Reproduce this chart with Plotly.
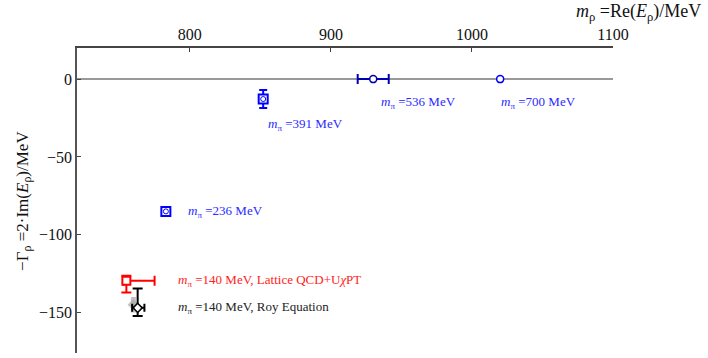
import plotly.graph_objects as go

# ---- data ----
blue_x = [783, 852]
blue_y = [-85, -12.8]
blue_yerr = [1.5, 5.8]
blue_xerr = [1.5, 1.2]

p700_x = [1020]
p700_y = [0]
p700_yerr = [1.3]

navy_x = [930]
navy_y = [0]
navy_xerr = [11]

red_x = [755]
red_y = [-129.5]
red_xerr_plus = [20]
red_xerr_minus = [2]
red_yerr_plus = [3.2]
red_yerr_minus = [7.6]

roy_x = [763]
roy_y = [-147]
roy_xerr_plus = [4.8]
roy_xerr_minus = [3.9]
roy_yerr_plus = [12.4]
roy_yerr_minus = [5.2]

band_x = [760]
band_y = [-145]
band_yerr = [5]

label_texts = [
    "<i>m</i><sub>π</sub> =236 MeV",
    "<i>m</i><sub>π</sub> =391 MeV",
    "<i>m</i><sub>π</sub> =536 MeV",
    "<i>m</i><sub>π</sub> =700 MeV",
    "<i>m</i><sub>π</sub> =140 MeV, Lattice QCD+U<i>χ</i>PT",
    "<i>m</i><sub>π</sub> =140 MeV, Roy Equation",
]
label_x = [797, 854, 934, 1019, 790, 790]
label_y = [-85, -29, -14.7, -14.7, -129.5, -147]
label_colors = ["#2a2aff", "#2a2aff", "#2a2aff", "#2a2aff", "#ff2222", "#222222"]

x_ticks = [800, 900, 1000, 1100]
y_ticks = [0, -50, -100, -150]

FONT = "Liberation Serif"

fig = go.Figure()

# grey band behind Roy point
fig.add_trace(go.Scatter(
    x=band_x, y=band_y, mode="markers",
    marker=dict(symbol="diamond", size=9, color="rgba(170,170,170,0.7)"),
    error_y=dict(type="data", array=band_yerr, color="rgba(170,170,170,0.7)", thickness=5, width=0),
    showlegend=False, hoverinfo="skip"))

# blue lattice points
fig.add_trace(go.Scatter(
    x=blue_x, y=blue_y, mode="markers",
    marker=dict(symbol="square", size=9, color="white", line=dict(color="blue", width=2)),
    error_y=dict(type="data", array=blue_yerr, color="blue", thickness=2, width=4),
    error_x=dict(type="data", array=blue_xerr, color="blue", thickness=2, width=0),
    showlegend=False))
fig.add_trace(go.Scatter(
    x=blue_x, y=blue_y, mode="markers",
    marker=dict(symbol="circle", size=5, color="white", line=dict(color="blue", width=1)),
    showlegend=False))

# 700 point
fig.add_trace(go.Scatter(
    x=p700_x, y=p700_y, mode="markers",
    marker=dict(symbol="circle", size=7, color="white", line=dict(color="blue", width=1.5)),
    error_y=dict(type="data", array=p700_yerr, color="blue", thickness=2, width=3),
    showlegend=False))

# navy 536 point
fig.add_trace(go.Scatter(
    x=navy_x, y=navy_y, mode="markers",
    marker=dict(symbol="circle", size=7, color="white", line=dict(color="#0000b0", width=1.5)),
    error_x=dict(type="data", array=navy_xerr, color="#0000b0", thickness=2, width=5),
    showlegend=False))

# red lattice QCD + UChPT
fig.add_trace(go.Scatter(
    x=red_x, y=red_y, mode="markers",
    marker=dict(symbol="square", size=8, color="white", line=dict(color="red", width=2)),
    error_x=dict(type="data", symmetric=False, array=red_xerr_plus, arrayminus=red_xerr_minus,
                 color="red", thickness=2, width=5),
    error_y=dict(type="data", symmetric=False, array=red_yerr_plus, arrayminus=red_yerr_minus,
                 color="red", thickness=2, width=5),
    showlegend=False))

# black Roy equation
fig.add_trace(go.Scatter(
    x=roy_x, y=roy_y, mode="markers",
    marker=dict(symbol="diamond", size=7, color="white", line=dict(color="black", width=1.5)),
    error_x=dict(type="data", symmetric=False, array=roy_xerr_plus, arrayminus=roy_xerr_minus,
                 color="black", thickness=2, width=4),
    error_y=dict(type="data", symmetric=False, array=roy_yerr_plus, arrayminus=roy_yerr_minus,
                 color="black", thickness=2, width=5),
    showlegend=False))

for t, xx, yy, c in zip(label_texts, label_x, label_y, label_colors):
    fig.add_annotation(x=xx, y=yy, text=t, showarrow=False, xanchor="left", yanchor="middle",
                       font=dict(family=FONT, size=13, color=c))

fig.add_annotation(xref="paper", yref="paper", x=1.168, y=1.115, xanchor="right", yanchor="middle",
                   text="<i>m</i><sub>ρ</sub> =Re(<i>E</i><sub>ρ</sub>)/MeV", showarrow=False,
                   font=dict(family=FONT, size=18, color="#111"))
fig.add_annotation(xref="paper", yref="paper", x=-0.1, y=0.5, xanchor="center", yanchor="middle",
                   textangle=-90,
                   text="−Γ<sub>ρ</sub> =2·Im(<i>E</i><sub>ρ</sub>)/MeV", showarrow=False,
                   font=dict(family=FONT, size=17, color="#111"))

fig.update_layout(
    width=708, height=358,
    margin=dict(l=77, r=95, t=48, b=5, autoexpand=False),
    plot_bgcolor="white", paper_bgcolor="white",
    font=dict(family=FONT, size=14, color="#111"),
    xaxis=dict(range=[720, 1100], side="top", tickvals=x_ticks, ticks="inside", ticklen=4,
               tickcolor="#444", showline=True, linecolor="#444", linewidth=1.5,
               showgrid=False, zeroline=False, tickfont=dict(family=FONT, size=16),
               automargin=False),
    yaxis=dict(range=[-176, 20], tickvals=y_ticks, ticks="inside", ticklen=4,
               tickcolor="#444", showline=True, linecolor="#555", linewidth=1.5,
               showgrid=False, zeroline=True, zerolinecolor="#999", zerolinewidth=2,
               tickfont=dict(family=FONT, size=16), automargin=False),
)

fig.write_html("out.html", config={"displayModeBar": False},
               post_script="document.body.style.margin='0';")
